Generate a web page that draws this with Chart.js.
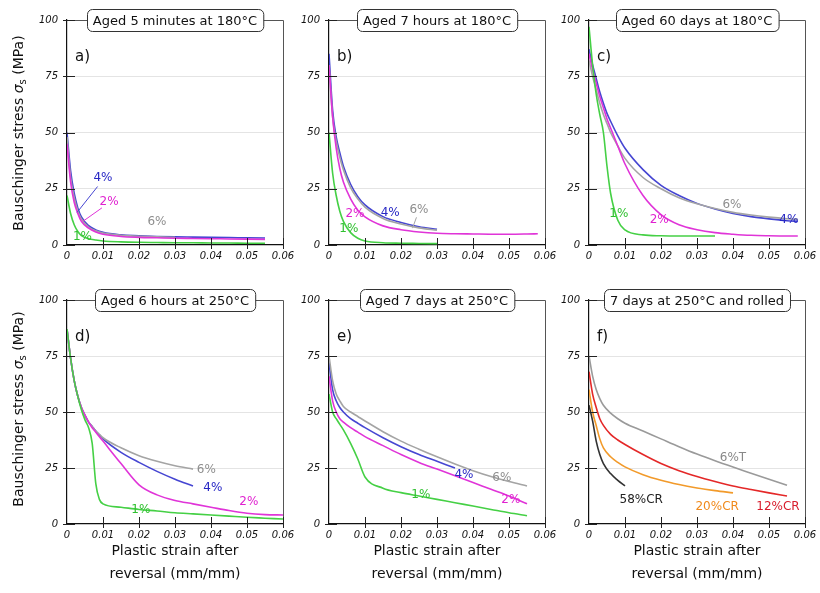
<!DOCTYPE html>
<html>
<head>
<meta charset="utf-8">
<title>Bauschinger stress</title>
<script src="https://cdn.jsdelivr.net/npm/chart.js@4/dist/chart.umd.min.js"></script>
<style>
  body { margin: 0; background: #fff; font-family: 'DejaVu Sans', sans-serif; color: #111; }
  #wrap { position: relative; width: 820px; height: 593px; overflow: hidden; }
  canvas { position: absolute; }
  .ytitle { position: absolute; width: 240px; height: 18px; line-height: 18px; text-align: center;
            font-size: 14px; white-space: nowrap; transform: rotate(-90deg); }
  .ytitle sub { font-size: 10px; vertical-align: -3px; line-height: 0; }
  .xtitle { position: absolute; width: 216px; text-align: center; font-size: 14px; line-height: 23px; }
</style>
</head>
<body>
<div id="wrap">
  <canvas id="grafA" width="276" height="275"></canvas>
  <canvas id="grafB" width="276" height="275"></canvas>
  <canvas id="grafC" width="276" height="275"></canvas>
  <canvas id="grafD" width="276" height="274"></canvas>
  <canvas id="grafE" width="276" height="274"></canvas>
  <canvas id="grafF" width="276" height="274"></canvas>

  <div class="ytitle" style="left:-102px; top:124px;">Bauschinger stress <i>σ</i><sub>s</sub> (MPa)</div>
  <div class="ytitle" style="left:-102px; top:400px;">Bauschinger stress <i>σ</i><sub>s</sub> (MPa)</div>
  <div class="xtitle" style="left:67px; top:539px;">Plastic strain after<br>reversal (mm/mm)</div>
  <div class="xtitle" style="left:329px; top:539px;">Plastic strain after<br>reversal (mm/mm)</div>
  <div class="xtitle" style="left:589px; top:539px;">Plastic strain after<br>reversal (mm/mm)</div>
</div>

<script>
// axis ticks
const xTickValues = [0, 0.01, 0.02, 0.03, 0.04, 0.05, 0.06];
const xTickLabels = ['0', '0.01', '0.02', '0.03', '0.04', '0.05', '0.06'];
const yTickValues = [0, 25, 50, 75, 100];
const yTickLabels = ['0', '25', '50', '75', '100'];

const panelTitles = [
  'Aged 5 minutes at 180°C', 'Aged 7 hours at 180°C', 'Aged 60 days at 180°C',
  'Aged 6 hours at 250°C', 'Aged 7 days at 250°C', '7 days at 250°C and rolled'
];
const panelLetters = ['a)', 'b)', 'c)', 'd)', 'e)', 'f)'];
const prestrainLabels = ['1%', '2%', '6%', '4%'];
const rolledLabels = ['6%T', '12%CR', '20%CR', '58%CR'];

// a) 5 minutes at 180°C
const strainA = [0, 0.001, 0.002, 0.003, 0.004, 0.006, 0.008, 0.01, 0.015, 0.02, 0.025, 0.03, 0.035, 0.04, 0.045, 0.05, 0.055];
const a1 = [22, 14, 9, 6, 4.2, 2.8, 2.2, 1.8, 1.4, 1.2, 1.1, 1.0, 1.0, 0.9, 0.9, 0.8, 0.8];
const a2 = [45, 28, 19, 14, 10.5, 7.5, 5.8, 4.8, 3.8, 3.4, 3.2, 3.0, 2.9, 2.8, 2.7, 2.6, 2.5];
const a4 = [50, 33, 23, 16.5, 12.5, 8.6, 6.7, 5.6, 4.5, 4.1, 3.8, 3.6, 3.5, 3.4, 3.3, 3.2, 3.1];
const a6 = [48, 30, 21, 15, 11.5, 8, 6.3, 5.3, 4.3, 3.9, 3.6, 3.4];

// b) 7 hours at 180°C
const strainB = [0, 0.001, 0.002, 0.003, 0.004, 0.006, 0.008, 0.01, 0.015, 0.02, 0.025, 0.03, 0.035, 0.04, 0.045, 0.05, 0.055, 0.058];
const b1 = [50, 32, 22, 15, 10.5, 5.5, 3, 1.8, 1, 0.8, 0.7, 0.6];
const b2 = [80, 57, 43, 34, 28, 20.5, 15.5, 12.5, 8.5, 6.8, 5.8, 5.2, 5, 4.9, 4.8, 4.8, 4.9, 5];
const b4 = [85, 60, 48, 41, 35, 27, 21.5, 17.8, 12.6, 10, 8.1, 7];
const b6 = [80, 57, 46, 39, 33.5, 25.5, 20.5, 16.8, 11.8, 9.3, 7.6, 6.6];

// c) 60 days at 180°C
const strainC = [0, 0.001, 0.002, 0.003, 0.004, 0.005, 0.006, 0.008, 0.01, 0.015, 0.02, 0.025, 0.03, 0.035, 0.04, 0.045, 0.05, 0.055, 0.058];
const c1 = [97, 80, 67, 58, 50, 35, 23, 11, 6.7, 4.5, 4.1, 4, 4, 4];
const c2 = [85, 78, 72, 66, 61, 56, 52, 44, 36, 22, 13.5, 9, 6.8, 5.5, 4.8, 4.3, 4.1, 4, 4];
const c4 = [87, 80, 74, 68, 63, 58.5, 55, 48.5, 43, 33.5, 26.5, 22, 18.5, 16, 14, 12.6, 11.6, 10.8, 10.5];
const c6 = [82, 75, 69, 63, 58, 54, 50, 44, 38.5, 30, 25, 21, 18.3, 16.2, 14.5, 13.3, 12.4, 11.7, 11.4];

// d) 6 hours at 250°C
const strainD = [0, 0.001, 0.002, 0.003, 0.004, 0.005, 0.006, 0.007, 0.008, 0.009, 0.01, 0.015, 0.02, 0.025, 0.03, 0.035, 0.04, 0.045, 0.05, 0.055, 0.06];
const d1 = [87, 74, 64, 57, 51, 46.5, 43, 36, 18, 11, 9, 7.5, 6.5, 5.8, 5, 4.5, 4, 3.5, 3, 2.6, 2.2];
const d2 = [87, 74, 64, 57, 52, 48.5, 45.5, 43, 41, 39, 37, 27, 17.5, 13, 10.5, 9, 7.5, 6, 4.8, 4.2, 4];
const d4 = [87, 74, 64, 57, 52, 48.5, 45.5, 43.5, 41.5, 39.8, 38, 32, 27.5, 23.5, 20, 17];
const d6 = [87, 74, 64, 57, 52, 48.5, 45.5, 43.5, 41.5, 40, 38.5, 34, 30.5, 28, 26, 24.5];

// e) 7 days at 250°C
const strainE = [0, 0.001, 0.002, 0.003, 0.004, 0.006, 0.008, 0.01, 0.015, 0.02, 0.025, 0.03, 0.035, 0.04, 0.045, 0.05, 0.055];
const e1 = [58, 50, 47, 44.5, 42, 36, 29, 21, 16, 14, 12.5, 11, 9.5, 8, 6.5, 5, 3.7];
const e2 = [66, 55, 50, 47, 45.5, 43, 41, 39, 35, 31, 27.5, 24.5, 21.5, 18.5, 15.5, 12.5, 9];
const e4 = [72, 60, 55, 52, 50, 47, 45, 43, 38.5, 34.5, 31, 28, 25];
const e6 = [75, 64, 58, 55, 52.5, 50, 48, 46, 41.2, 37, 33.4, 30, 26.8, 23.8, 21.2, 19, 17];

// f) 7 days at 250°C, then rolled
const strainF = [0, 0.001, 0.002, 0.003, 0.004, 0.006, 0.008, 0.01, 0.015, 0.02, 0.025, 0.03, 0.035, 0.04, 0.045, 0.05, 0.055];
const f6T = [75, 66, 60, 56, 53, 49.5, 47, 45, 41.5, 38, 34.5, 31.2, 28.2, 25.4, 22.7, 20, 17.3];
const f12CR = [68, 58, 52, 47, 44, 40, 37.5, 35.5, 31, 27, 23.8, 21.2, 19, 17, 15.4, 13.9, 12.5];
const f20CR = [60, 50, 44, 38, 34, 30, 27.5, 25.5, 22, 19.5, 17.6, 16.1, 14.9, 13.9];
const f58CR = [53, 46, 37, 31, 27, 22.5, 19.5, 17];

// line colours
const cores = {
  '1%': '#45d045', '2%': '#e034d8', '4%': '#4646d2', '6%': '#a4a4a4',
  '6%T': '#9a9a9a', '12%CR': '#e42828', '20%CR': '#f29a2a', '58%CR': '#333333'
};
const coresTexto = {
  '1%': '#2fc02f', '2%': '#e020d0', '4%': '#2626c4', '6%': '#8e8e8e',
  '6%T': '#888888', '12%CR': '#d81c2c', '20%CR': '#f08a1c', '58%CR': '#222222'
};

// where the curve labels sit (strain, stress), plus optional leader line
const anotacoes = [
  [
    { t: '4%', x: 0.0100, y: 30, guia: [0.0085, 26, 0.0028, 14.5] },
    { t: '2%', x: 0.0117, y: 19, guia: [0.0097, 16.5, 0.0044, 10.5] },
    { t: '6%', x: 0.0250, y: 10.5 },
    { t: '1%', x: 0.0043, y: 3.5 }
  ],
  [
    { t: '4%', x: 0.0170, y: 14.5 },
    { t: '6%', x: 0.0250, y: 15.5, guia: [0.0243, 12.3, 0.0232, 7.5] },
    { t: '2%', x: 0.0072, y: 14 },
    { t: '1%', x: 0.0055, y: 7 }
  ],
  [
    { t: '6%', x: 0.0397, y: 18 },
    { t: '4%', x: 0.0555, y: 11 },
    { t: '2%', x: 0.0195, y: 11 },
    { t: '1%', x: 0.0083, y: 14 }
  ],
  [
    { t: '6%', x: 0.0387, y: 24 },
    { t: '4%', x: 0.0405, y: 16 },
    { t: '2%', x: 0.0505, y: 10 },
    { t: '1%', x: 0.0205, y: 6.5 }
  ],
  [
    { t: '4%', x: 0.0375, y: 22 },
    { t: '6%', x: 0.0480, y: 20.5 },
    { t: '2%', x: 0.0505, y: 10.7 },
    { t: '1%', x: 0.0255, y: 13 }
  ],
  [
    { t: '6%T', x: 0.0400, y: 29.5 },
    { t: '58%CR', x: 0.0145, y: 10.7 },
    { t: '20%CR', x: 0.0356, y: 7.5 },
    { t: '12%CR', x: 0.0525, y: 7.7 }
  ]
];

const plotLeft = [67, 329, 589];
const plotTop = [20, 300];

// frame, crossing ticks, panel letter, curve labels and the title box
const panelDecor = {
  id: 'panelDecor',
  afterDraw(chart, args, opts) {
    const { ctx, chartArea: area } = chart;
    const xs = chart.scales.x;
    const ys = chart.scales.y;
    ctx.save();

    ctx.strokeStyle = '#555';
    ctx.lineWidth = 1;
    ctx.beginPath();
    ctx.moveTo(area.left, area.top + 0.5);
    ctx.lineTo(area.right + 0.5, area.top + 0.5);
    ctx.lineTo(area.right + 0.5, area.bottom);
    ctx.stroke();

    ctx.strokeStyle = '#222';
    ctx.beginPath();
    xTickValues.forEach(v => {
      if (v === 0) return;
      const px = Math.round(xs.getPixelForValue(v)) + 0.5;
      ctx.moveTo(px, area.bottom - 7);
      ctx.lineTo(px, area.bottom + 4);
    });
    yTickValues.forEach(v => {
      const py = Math.round(ys.getPixelForValue(v)) + 0.5;
      ctx.moveTo(area.left - 4, py);
      ctx.lineTo(area.left + 8, py);
    });
    ctx.stroke();

    // panel letter
    ctx.fillStyle = '#111';
    ctx.font = '15px "DejaVu Sans"';
    ctx.textAlign = 'left';
    ctx.textBaseline = 'middle';
    ctx.fillText(opts.letra, area.left + 8, area.top + 37);

    // curve labels
    ctx.font = '12px "DejaVu Sans"';
    ctx.textAlign = 'center';
    opts.rotulos.forEach(r => {
      if (r.guia) {
        ctx.strokeStyle = cores[r.t];
        ctx.lineWidth = 1;
        ctx.beginPath();
        ctx.moveTo(xs.getPixelForValue(r.guia[0]), ys.getPixelForValue(r.guia[1]));
        ctx.lineTo(xs.getPixelForValue(r.guia[2]), ys.getPixelForValue(r.guia[3]));
        ctx.stroke();
      }
      ctx.fillStyle = coresTexto[r.t];
      ctx.fillText(r.t, xs.getPixelForValue(r.x), ys.getPixelForValue(r.y));
    });

    // title box sitting on the top frame
    ctx.font = '13px "DejaVu Sans"';
    const w = ctx.measureText(opts.titulo).width + 12;
    const h = 22;
    const cx = (area.left + area.right) / 2;
    const bx = Math.round(cx - w / 2) + 0.5;
    const by = Math.round(area.top - h / 2) + 0.5;
    const r = 5;
    ctx.beginPath();
    ctx.moveTo(bx + r, by);
    ctx.lineTo(bx + w - r, by);
    ctx.arcTo(bx + w, by, bx + w, by + r, r);
    ctx.lineTo(bx + w, by + h - r);
    ctx.arcTo(bx + w, by + h, bx + w - r, by + h, r);
    ctx.lineTo(bx + r, by + h);
    ctx.arcTo(bx, by + h, bx, by + h - r, r);
    ctx.lineTo(bx, by + r);
    ctx.arcTo(bx, by, bx + r, by, r);
    ctx.closePath();
    ctx.fillStyle = '#fff';
    ctx.fill();
    ctx.strokeStyle = '#333';
    ctx.stroke();
    ctx.fillStyle = '#111';
    ctx.fillText(opts.titulo, cx, by + h / 2 + 1);

    ctx.restore();
  }
};

function createGrafico(idx, strain, series, nomes) {
  const canvas = document.getElementById('graf' + 'ABCDEF'[idx]);
  canvas.style.left = (plotLeft[idx % 3] - 45) + 'px';
  canvas.style.top = (plotTop[Math.floor(idx / 3)] - 20) + 'px';

  const datasets = series.map((valores, i) => ({
    label: nomes[i],
    data: valores.map((v, j) => ({ x: strain[j], y: v })),
    borderColor: cores[nomes[i]],
    borderWidth: 1.6,
    pointRadius: 0,
    fill: false,
    cubicInterpolationMode: 'monotone'
  }));

  new Chart(canvas, {
    type: 'line',
    data: { datasets },
    options: {
      responsive: false,
      animation: false,
      devicePixelRatio: 1,
      layout: { padding: { top: 20, right: 15, left: 0, bottom: 0 } },
      plugins: {
        legend: { display: false },
        tooltip: { enabled: false },
        panelDecor: { titulo: panelTitles[idx], letra: panelLetters[idx], rotulos: anotacoes[idx] }
      },
      scales: {
        x: {
          type: 'linear',
          min: 0,
          max: 0.06,
          afterBuildTicks: s => { s.ticks = xTickValues.map(v => ({ value: v })); },
          afterFit: s => { s.height = 30; s.paddingLeft = 0; s.paddingRight = 0; },
          ticks: {
            callback: (v, i) => xTickLabels[i],
            autoSkip: false,
            maxRotation: 0,
            padding: 5,
            color: '#111',
            font: { family: 'DejaVu Sans', size: 10, style: 'italic' }
          },
          grid: { display: false, drawTicks: false },
          border: { color: '#111', width: 1.2 }
        },
        y: {
          min: 0,
          max: 100,
          afterBuildTicks: s => { s.ticks = yTickValues.map(v => ({ value: v })); },
          afterFit: s => { s.width = 45; s.paddingTop = 0; s.paddingBottom = 0; },
          ticks: {
            callback: (v, i) => yTickLabels[i],
            padding: 9,
            color: '#111',
            font: { family: 'DejaVu Sans', size: 10, style: 'italic' }
          },
          grid: {
            drawTicks: false,
            color: c => (c.tick && (c.tick.value === 0 || c.tick.value === 100)) ? 'rgba(0,0,0,0)' : '#e4e4e4'
          },
          border: { color: '#111', width: 1.2 }
        }
      }
    },
    plugins: [panelDecor]
  });
}

createGrafico(0, strainA, [a1, a2, a6, a4], prestrainLabels);
createGrafico(1, strainB, [b1, b2, b6, b4], prestrainLabels);
createGrafico(2, strainC, [c1, c2, c6, c4], prestrainLabels);
createGrafico(3, strainD, [d1, d2, d6, d4], prestrainLabels);
createGrafico(4, strainE, [e1, e2, e6, e4], prestrainLabels);
createGrafico(5, strainF, [f6T, f12CR, f20CR, f58CR], rolledLabels);
</script>
</body>
</html>
